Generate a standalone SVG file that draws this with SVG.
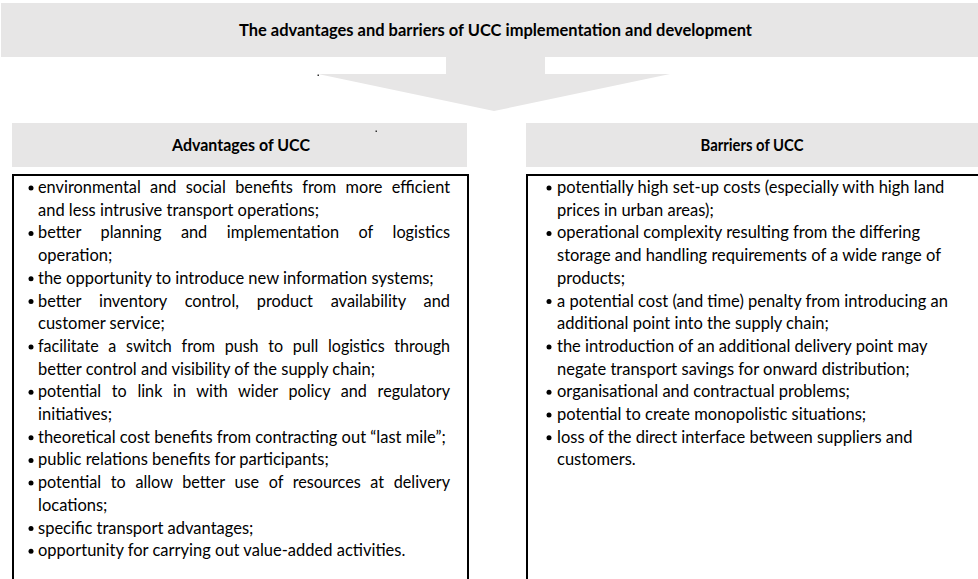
<svg xmlns="http://www.w3.org/2000/svg" width="978" height="579" viewBox="0 0 978 579">
<style>
.bg{fill:#e7e6e6}
.box{fill:#fff;stroke:#000;stroke-width:2}
.t{font-family:Lato,"Open Sans","Liberation Sans",sans-serif;font-size:16.5px;fill:#000}
.h{font-family:Lato,"Open Sans","Liberation Sans",sans-serif;font-size:16.2px;font-weight:bold;fill:#000;text-anchor:middle}
.b{fill:#000}
</style>
<rect width="978" height="579" fill="#fff"/>
<g id="connectors">
<polygon class="bg" points="446,56 545,56 545,74 670,74 494,111 318,74 446,74"/>
<rect x="317.5" y="74.5" width="1.5" height="1.5" fill="#333"/>
</g>
<g id="title">
<rect class="bg" x="1" y="3" width="977" height="54"/>
<text class="h" x="495.5" y="35.5" textLength="513" lengthAdjust="spacingAndGlyphs">The advantages and barriers of UCC implementation and development</text>
</g>
<g id="advantages-header">
<rect class="bg" x="12" y="123" width="455" height="44"/>
<text class="h" x="241" y="150.5" textLength="138" lengthAdjust="spacingAndGlyphs">Advantages of UCC</text>
<rect x="375.5" y="130.5" width="1.5" height="1.5" fill="#333"/>
</g>
<g id="barriers-header">
<rect class="bg" x="526" y="123" width="452" height="44"/>
<text class="h" x="752" y="150.5" textLength="103" lengthAdjust="spacingAndGlyphs">Barriers of UCC</text>
</g>
<g id="advantages-list">
<rect class="box" x="13" y="175" width="455" height="420"/>
<g class="b">
<circle cx="31" cy="188" r="2.5"/>
<circle cx="31" cy="233.4" r="2.5"/>
<circle cx="31" cy="278.8" r="2.5"/>
<circle cx="31" cy="301.5" r="2.5"/>
<circle cx="31" cy="346.9" r="2.5"/>
<circle cx="31" cy="392.3" r="2.5"/>
<circle cx="31" cy="437.7" r="2.5"/>
<circle cx="31" cy="460.4" r="2.5"/>
<circle cx="31" cy="483.1" r="2.5"/>
<circle cx="31" cy="528.5" r="2.5"/>
<circle cx="31" cy="551.2" r="2.5"/>
</g>
<text class="t" x="38" y="193" word-spacing="5.2" textLength="412" lengthAdjust="spacingAndGlyphs">environmental and social benefits from more efficient</text>
<text class="t" x="38" y="215.7">and less intrusive transport operations;</text>
<text class="t" x="38" y="238.4" word-spacing="15.5" textLength="412" lengthAdjust="spacingAndGlyphs">better planning and implementation of logistics</text>
<text class="t" x="38" y="261.1">operation;</text>
<text class="t" x="38" y="283.8">the opportunity to introduce new information systems;</text>
<text class="t" x="38" y="306.5" word-spacing="13.7" textLength="412" lengthAdjust="spacingAndGlyphs">better inventory control, product availability and</text>
<text class="t" x="38" y="329.2">customer service;</text>
<text class="t" x="38" y="351.9" word-spacing="5.7" textLength="412" lengthAdjust="spacingAndGlyphs">facilitate a switch from push to pull logistics through</text>
<text class="t" x="38" y="374.6">better control and visibility of the supply chain;</text>
<text class="t" x="38" y="397.3" word-spacing="6.7" textLength="412" lengthAdjust="spacingAndGlyphs">potential to link in with wider policy and regulatory</text>
<text class="t" x="38" y="420">initiatives;</text>
<text class="t" x="38" y="442.7">theoretical cost benefits from contracting out “last mile”;</text>
<text class="t" x="38" y="465.4">public relations benefits for participants;</text>
<text class="t" x="38" y="488.1" word-spacing="5.6" textLength="412" lengthAdjust="spacingAndGlyphs">potential to allow better use of resources at delivery</text>
<text class="t" x="38" y="510.8">locations;</text>
<text class="t" x="38" y="533.5">specific transport advantages;</text>
<text class="t" x="38" y="556.2">opportunity for carrying out value-added activities.</text>
</g>
<g id="barriers-list">
<rect class="box" x="527" y="175" width="470" height="420"/>
<g class="b">
<circle cx="549" cy="188" r="2.5"/>
<circle cx="549" cy="233.4" r="2.5"/>
<circle cx="549" cy="301.5" r="2.5"/>
<circle cx="549" cy="346.9" r="2.5"/>
<circle cx="549" cy="392.3" r="2.5"/>
<circle cx="549" cy="415" r="2.5"/>
<circle cx="549" cy="437.7" r="2.5"/>
</g>
<text class="t" x="557" y="193">potentially high set-up costs (especially with high land</text>
<text class="t" x="557" y="215.7">prices in urban areas);</text>
<text class="t" x="557" y="238.4">operational complexity resulting from the differing</text>
<text class="t" x="557" y="261.1">storage and handling requirements of a wide range of</text>
<text class="t" x="557" y="283.8">products;</text>
<text class="t" x="557" y="306.5">a potential cost (and time) penalty from introducing an</text>
<text class="t" x="557" y="329.2">additional point into the supply chain;</text>
<text class="t" x="557" y="351.9">the introduction of an additional delivery point may</text>
<text class="t" x="557" y="374.6">negate transport savings for onward distribution;</text>
<text class="t" x="557" y="397.3">organisational and contractual problems;</text>
<text class="t" x="557" y="420">potential to create monopolistic situations;</text>
<text class="t" x="557" y="442.7">loss of the direct interface between suppliers and</text>
<text class="t" x="557" y="465.4">customers.</text>
</g>
</svg>
